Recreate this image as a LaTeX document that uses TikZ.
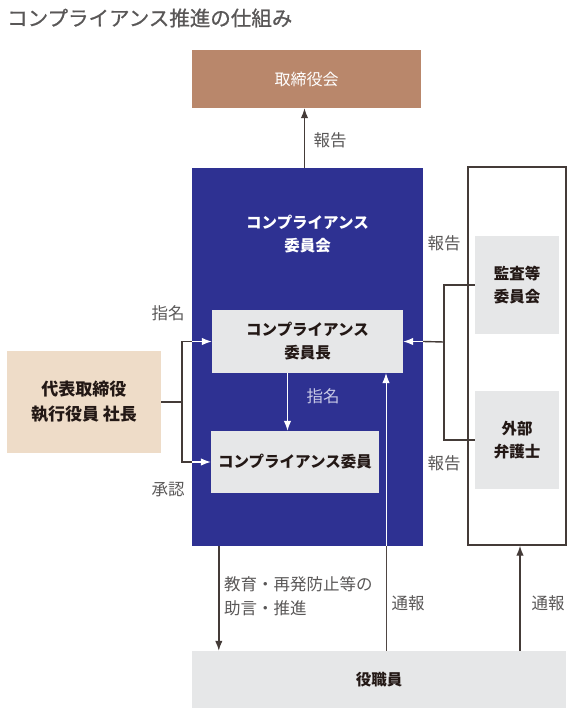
\documentclass[tikz,border=0pt]{standalone}
\usepackage{fontspec}
\setmainfont{Noto Sans CJK JP}
\newfontfamily\ttlfont[FakeBold=0.8]{Noto Sans CJK JP}
\usetikzlibrary{arrows.meta}
\tikzset{>={Latex[length=10pt, width=7.5pt]}}
\definecolor{navy}{HTML}{2E3192}
\definecolor{brownbox}{HTML}{B9876B}
\definecolor{beige}{HTML}{EEDCC8}
\definecolor{paleg}{HTML}{E6E7E8}
\definecolor{ink}{HTML}{231815}
\definecolor{txtgray}{HTML}{595757}
\definecolor{lilac}{HTML}{C8C9E6}
\tikzset{
  box/.style={inner sep=0pt, align=center, font=\bfseries\fontsize{15.5}{23}\selectfont, text=ink},
  lbl/.style={inner sep=0pt, text=txtgray, font=\fontsize{16.5}{24}\selectfont},
  conn/.style={draw=ink!85, line width=1.4pt},
}

\begin{document}
\begin{tikzpicture}[x=1pt, y=-1pt]
    \useasboundingbox (0,0) rectangle (578,718);
    \node[anchor=west, text=txtgray, font=\ttlfont\fontsize{20.5}{24}\selectfont, inner sep=0pt](title)at(7, 18){コンプライアンス推進の仕組み};
    % boxes
    \node[box, fill=brownbox, text=white, font=\fontsize{16}{23}\selectfont, minimum width=229, minimum height=58](board)at(306.5, 79){取締役会};
    \node[box, fill=navy, minimum width=231, minimum height=378](navy)at(307.5, 357){};
    \node[box, text=white](cttl)at(307.5, 234){コンプライアンス\\委員会};
    \node[box, fill=paleg, minimum width=191, minimum height=63](chair)at(307.5, 341.5){コンプライアンス\\委員長};
    \node[box, fill=paleg, minimum width=168, minimum height=62](member)at(295, 462){コンプライアンス委員};
    \node[box, fill=beige, font=\bfseries\fontsize{17}{25}\selectfont, minimum width=154, minimum height=102](ceo)at(84, 402){代表取締役\\執行役員 社長};
    \node[box, draw=ink!85, line width=1.4pt, minimum width=98, minimum height=378](frame)at(517, 356){};
    \node[box, fill=paleg, minimum width=84, minimum height=98](audit)at(517, 285){監査等\\委員会};
    \node[box, fill=paleg, minimum width=84, minimum height=98](lawyer)at(517, 440){外部\\弁護士};
    \node[box, fill=paleg, minimum width=374, minimum height=57](staff)at(379, 679.5){役職員};
    % connectors
    \draw[conn, ->]([xshift=-3]navy.north)--([xshift=-3]navy.north |- board.south);
    \node[lbl](l1)at(330, 140){報告};
    \coordinate(lj)at(182, 402);
    \draw[conn](ceo.east)--(lj);
    \draw[conn](lj)|-(navy.west |- chair.west);
    \draw[conn](lj)|-(navy.west |- member.west);
    \draw[white, line width=1.2pt, ->](navy.west |- chair.west)--(chair.west);
    \draw[white, line width=1.2pt, ->](navy.west |- member.west)--(member.west);
    \node[lbl](l2)at(168, 313){指名};
    \node[lbl](l3)at(168, 490){承認};
    \draw[white, line width=1.2pt, ->]([xshift=-20]chair.south)--([xshift=-20]chair.south |- member.north);
    \node[lbl, text=lilac](l4)at(323, 396){指名};
    \coordinate(rj)at(444, 342);
    \draw[conn](audit.west)-|(rj);
    \draw[conn](lawyer.west)-|(rj);
    \draw[conn](rj)--(navy.east |- chair.east);
    \draw[white, line width=1.2pt, ->](navy.east |- chair.east)--(chair.east);
    \node[lbl](l5)at(444, 243){報告};
    \node[lbl](l6)at(444, 463){報告};
    \draw[conn, ->]([xshift=27]navy.south west)--([xshift=27]navy.south west |- staff.north);
    \node[lbl, anchor=west, align=left](l7)at(224, 596){教育・再発防止等の\\助言・推進};
    \draw[ink!80, line width=0.8pt]([xshift=78.5]chair.south |- staff.north)--([xshift=78.5]chair.south |- navy.south);
    \draw[white, line width=0.8pt, ->]([xshift=78.5]chair.south |- navy.south)--([xshift=78.5]chair.south);
    \node[lbl](l8)at(408, 603){通報};
    \draw[conn, ->]([xshift=3]frame.south |- staff.north)--([xshift=3]frame.south);
    \node[lbl](l9)at(548, 603){通報};
\end{tikzpicture}
\end{document}
